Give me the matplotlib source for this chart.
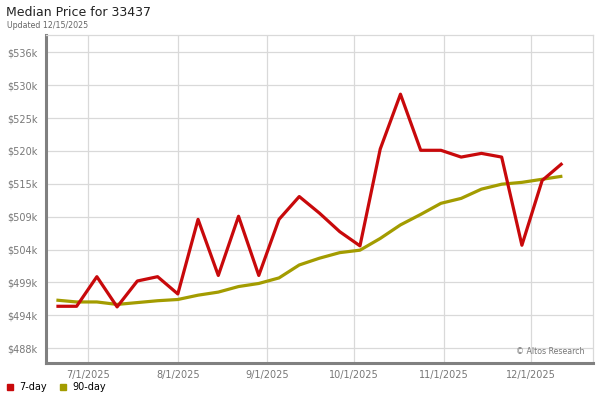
import matplotlib
matplotlib.use('Agg')
from matplotlib import pyplot as plt
from matplotlib import dates as mdates
from matplotlib.lines import Line2D
from datetime import datetime

# weekly observations
dates = ['2025-06-20', '2025-06-27', '2025-07-04', '2025-07-11', '2025-07-18',
         '2025-07-25', '2025-08-01', '2025-08-08', '2025-08-15', '2025-08-22',
         '2025-08-29', '2025-09-05', '2025-09-12', '2025-09-19', '2025-09-26',
         '2025-10-03', '2025-10-10', '2025-10-17', '2025-10-24', '2025-10-31',
         '2025-11-07', '2025-11-14', '2025-11-21', '2025-11-28', '2025-12-05',
         '2025-12-12']

# median price in $k
price_7day = [495.1, 495.1, 499.9, 495.0, 499.2, 499.9, 497.1, 509.2, 500.1, 509.7,
              500.1, 509.2, 512.9, 510.2, 507.2, 504.9, 520.6, 529.5, 520.4, 520.4,
              519.3, 519.9, 519.3, 505.0, 515.5, 518.3]
price_90day = [496.1, 495.8, 495.8, 495.4, 495.7, 496.0, 496.2, 496.9, 497.4, 498.3,
               498.8, 499.7, 501.8, 502.9, 503.8, 504.2, 506.1, 508.3, 510.0, 511.8,
               512.6, 514.1, 514.9, 515.2, 515.7, 516.2]

ytick_vals = [488.3, 493.63, 498.97, 504.3, 509.63, 514.97, 520.3, 525.63, 530.97, 536.3]
ytick_labels = ['$488k', '$494k', '$499k', '$504k', '$509k', '$515k', '$520k',
                '$525k', '$530k', '$536k']
xtick_dates = ['2025-07-01', '2025-08-01', '2025-09-01', '2025-10-01', '2025-11-01', '2025-12-01']

RED = '#c8090b'
OLIVE = '#a39c00'

x = [datetime.strptime(d, '%Y-%m-%d') for d in dates]
xt = [datetime.strptime(d, '%Y-%m-%d') for d in xtick_dates]

fig = plt.figure(figsize=(6, 4), dpi=100)
ax = fig.add_axes([0.0767, 0.0925, 0.9116, 0.82])

ax.plot(x, price_90day, color=OLIVE, linewidth=2.3, zorder=3, solid_capstyle='butt')
ax.plot(x, price_7day, color=RED, linewidth=2.3, zorder=4, solid_capstyle='butt')

ax.set_xlim(datetime(2025, 6, 16, 10), datetime(2025, 12, 22, 14))
ax.set_ylim(485.9, 539.1)
ax.set_yticks(ytick_vals)
ax.set_yticklabels(ytick_labels)
ax.set_xticks(xt)
ax.xaxis.set_major_formatter(mdates.DateFormatter('%-m/%-d/%Y'))

ax.grid(True, color='#d9d9d9', linewidth=0.9)
ax.set_axisbelow(True)
ax.tick_params(axis='both', length=0, labelsize=7, labelcolor='#777777')
ax.tick_params(axis='y', pad=6)
ax.tick_params(axis='x', pad=5)

for side in ['top', 'right']:
    ax.spines[side].set_color('#d9d9d9')
    ax.spines[side].set_linewidth(0.9)
for side in ['left', 'bottom']:
    ax.spines[side].set_color('#808080')
    ax.spines[side].set_linewidth(2.2)

ax.text(0.985, 0.02, '\u00a9 Altos Research', transform=ax.transAxes,
        ha='right', va='bottom', fontsize=5.7, color='#777777')

fig.text(0.01, 0.968, 'Median Price for 33437', fontsize=9, color='#222222', va='center')
fig.text(0.012, 0.937, 'Updated 12/15/2025', fontsize=5.7, color='#666666', va='center')

handles = [Line2D([], [], marker='s', linestyle='none', color=RED, markersize=4.5),
           Line2D([], [], marker='s', linestyle='none', color=OLIVE, markersize=4.5)]
fig.legend(handles, ['7-day', '90-day'], loc='lower left', bbox_to_anchor=(0.0, 0.005),
           ncol=2, frameon=False, fontsize=7, handlelength=0.8, handletextpad=0.6,
           columnspacing=1.2, borderaxespad=0.2)

plt.savefig('out.png', dpi=100)
